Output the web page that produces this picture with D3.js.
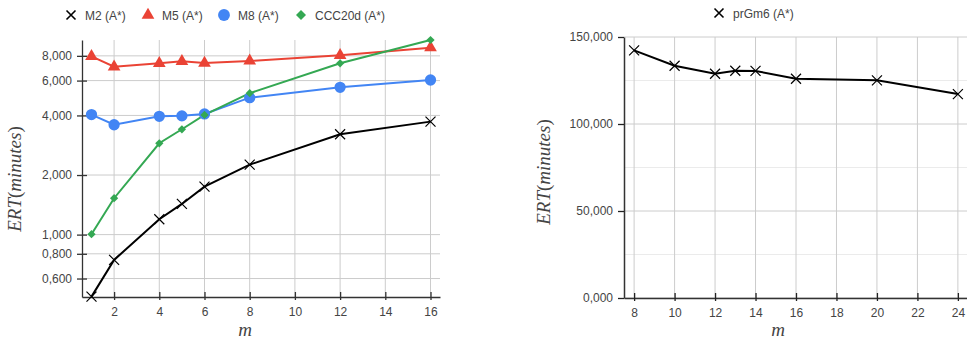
<!DOCTYPE html>
<html>
<head>
<meta charset="utf-8">
<script src="https://cdn.jsdelivr.net/npm/d3@7"></script>
<style>
  body { margin: 0; background: #fff; }
  svg text { font-family: "Liberation Sans", Arial, sans-serif; }
</style>
</head>
<body>
<div id="chart"></div>
<script>
// left chart data (log y)
var m_left = [1, 2, 4, 5, 6, 8, 12, 16];
var m2 = [486, 745, 1196, 1429, 1747, 2257, 3214, 3722];
var m5 = [7950, 7050, 7340, 7510, 7360, 7540, 8050, 8800];
var m8 = [4040, 3590, 3960, 3980, 4070, 4920, 5550, 6040];
var ccc20d = [1005, 1527, 2894, 3406, 4022, 5180, 7340, 9620];
var left_yticks = [600, 800, 1000, 2000, 4000, 6000, 8000];
var left_xticks = [2, 4, 6, 8, 10, 12, 14, 16];

// right chart data
var m_right = [8, 10, 12, 13, 14, 16, 20, 24];
var prgm6 = [142300, 133500, 128900, 130600, 130500, 126000, 125100, 117200];
var right_yticks = [0, 50000, 100000, 150000];
var right_minor = [25000, 75000, 125000];
var right_xticks = [8, 10, 12, 14, 16, 18, 20, 22, 24];

var w = 967, h = 339;

var the_svg = d3.select('#chart')
  .append('svg')
    .attr('width', w)
    .attr('height', h);

// weird "0,800" style labels from the original
function fmt(v) {
  var th = Math.floor(v / 1000);
  var rest = String(Math.round(v % 1000));
  while (rest.length < 3) rest = '0' + rest;
  return th + ',' + rest;
}

function crossPath(s) {
  return 'M' + (-s) + ',' + (-s) + 'L' + s + ',' + s + 'M' + (-s) + ',' + s + 'L' + s + ',' + (-s);
}

// diamond = square turned 45 degrees
function symPath(kind, size) {
  var sym = {tri: d3.symbolTriangle, circ: d3.symbolCircle, dia: d3.symbolSquare}[kind];
  return d3.symbol().type(sym).size(size)();
}
function symRot(kind) { return kind == 'dia' ? ' rotate(45)' : ''; }

function drawMarkers(g, xs, ys, x, y, kind, col) {
  var pts = xs.map(function(d, i) { return [x(d), y(ys[i])]; });
  var sel = g.selectAll(null).data(pts).enter().append('path')
    .attr('transform', function(p) { return 'translate(' + p[0] + ',' + p[1] + ')' + symRot(kind); });
  if (kind == 'cross') {
    sel.attr('d', crossPath(5)).attr('stroke', col).attr('stroke-width', 1.2).attr('fill', 'none');
  } else {
    var size = {tri: 70, circ: 100, dia: 34}[kind];
    sel.attr('d', symPath(kind, size)).attr('fill', col);
  }
}

function yLabel(x, y) {
  var t = the_svg.append('text')
    .attr('transform', 'translate(' + x + ',' + y + ') rotate(-90)')
    .attr('text-anchor', 'middle')
    .style('font-family', '"Liberation Serif", "Times New Roman", serif')
    .style('font-size', '19px')
    .attr('fill', '#444');
  t.append('tspan').style('font-style', 'italic').text('ERT');
  t.append('tspan').text('(');
  t.append('tspan').style('font-style', 'italic').text('minutes');
  t.append('tspan').text(')');
}

function xLabel(x, y) {
  the_svg.append('text')
    .attr('x', x).attr('y', y)
    .attr('text-anchor', 'middle')
    .style('font-family', '"Liberation Serif", "Times New Roman", serif')
    .style('font-style', 'italic')
    .style('font-size', '19px')
    .attr('fill', '#444')
    .text('m');
}

function legendItem(x, y, kind, col, label) {
  var g = the_svg.append('g').attr('transform', 'translate(' + x + ',' + y + ')');
  if (kind == 'cross') {
    g.append('path').attr('d', crossPath(4.5)).attr('stroke', col).attr('stroke-width', 1.6);
  } else {
    var size = {tri: 70, circ: 110, dia: 50}[kind];
    g.append('path').attr('d', symPath(kind, size)).attr('transform', symRot(kind)).attr('fill', col);
  }
  g.append('text').attr('x', 14).attr('y', 4.5)
    .style('font-size', '12px').attr('fill', '#444').text(label);
}

// ---------- left chart ----------
var xl = d3.scaleLinear().domain([0.58, 16.42]).range([82, 440]);
var yl = d3.scaleLog().domain([484, 9620]).range([297, 40]);

var gl = the_svg.append('g');

gl.selectAll(null).data(left_xticks).enter().append('line')
  .attr('x1', function(d) { return xl(d); }).attr('x2', function(d) { return xl(d); })
  .attr('y1', 40).attr('y2', 297)
  .attr('stroke', '#ccc').attr('stroke-width', 1);
gl.selectAll(null).data(left_yticks).enter().append('line')
  .attr('x1', 82).attr('x2', 440)
  .attr('y1', function(d) { return yl(d); }).attr('y2', function(d) { return yl(d); })
  .attr('stroke', '#ccc').attr('stroke-width', 1);

var yAxisL = d3.axisLeft(yl).tickValues(left_yticks).tickFormat(fmt).tickSizeInner(5).tickSizeOuter(0).tickPadding(5);
var axl = gl.append('g').attr('transform', 'translate(82,0)').call(yAxisL);
var xAxisL = d3.axisBottom(xl).tickValues(left_xticks).tickFormat(d3.format('d')).tickSizeInner(3).tickSizeOuter(0).tickPadding(7);
var axb = gl.append('g').attr('transform', 'translate(0,297)').call(xAxisL);

[axl, axb].forEach(function(a) {
  a.select('.domain').attr('stroke', '#333').attr('stroke-width', 1.3);
  a.selectAll('.tick line').attr('stroke', '#333').attr('stroke-width', 1.3);
  a.selectAll('.tick text').attr('fill', '#444').style('font-size', '12px')
    .style('font-family', '"Liberation Sans", Arial, sans-serif');
});
// ticks cross the axis line
axl.selectAll('.tick line').attr('x2', -5).attr('x1', 5);
axb.selectAll('.tick line').attr('y1', -5).attr('y2', 3);

var lineL = d3.line().x(function(d) { return xl(d[0]); }).y(function(d) { return yl(d[1]); });
var seriesL = [
  {ys: m2, col: '#000000', kind: 'cross', label: 'M2 (A*)'},
  {ys: m5, col: '#ea4335', kind: 'tri', label: 'M5 (A*)'},
  {ys: m8, col: '#4285f4', kind: 'circ', label: 'M8 (A*)'},
  {ys: ccc20d, col: '#34a853', kind: 'dia', label: 'CCC20d (A*)'}
];
seriesL.forEach(function(s) {
  gl.append('path')
    .datum(m_left.map(function(d, i) { return [d, s.ys[i]]; }))
    .attr('d', lineL)
    .attr('fill', 'none').attr('stroke', s.col).attr('stroke-width', 2);
});
seriesL.forEach(function(s) {
  drawMarkers(gl, m_left, s.ys, xl, yl, s.kind, s.col);
});

var legX = [71, 148, 224, 301];
seriesL.forEach(function(s, i) { legendItem(legX[i], 15, s.kind, s.col, s.label); });

yLabel(21, 179);
xLabel(245, 336);

// ---------- right chart ----------
var xr = d3.scaleLinear().domain([7.5, 24.5]).range([624, 968]);
var yr = d3.scaleLinear().domain([0, 150000]).range([298, 37]);

var gr = the_svg.append('g');

gr.selectAll(null).data(right_minor).enter().append('line')
  .attr('x1', 624).attr('x2', 968)
  .attr('y1', function(d) { return yr(d); }).attr('y2', function(d) { return yr(d); })
  .attr('stroke', '#ebebeb').attr('stroke-width', 1);
gr.selectAll(null).data(right_xticks).enter().append('line')
  .attr('x1', function(d) { return xr(d); }).attr('x2', function(d) { return xr(d); })
  .attr('y1', 37).attr('y2', 298)
  .attr('stroke', '#ccc').attr('stroke-width', 1);
gr.selectAll(null).data(right_yticks).enter().append('line')
  .attr('x1', 624).attr('x2', 968)
  .attr('y1', function(d) { return yr(d); }).attr('y2', function(d) { return yr(d); })
  .attr('stroke', '#ccc').attr('stroke-width', 1);

var ayr = gr.append('g').attr('transform', 'translate(624,0)')
  .call(d3.axisLeft(yr).tickValues(right_yticks).tickFormat(fmt).tickSizeInner(5).tickSizeOuter(0).tickPadding(6));
var axr = gr.append('g').attr('transform', 'translate(0,298)')
  .call(d3.axisBottom(xr).tickValues(right_xticks).tickFormat(d3.format('d')).tickSizeInner(3).tickSizeOuter(0).tickPadding(7));

[ayr, axr].forEach(function(a) {
  a.select('.domain').attr('stroke', '#333').attr('stroke-width', 1.5);
  a.selectAll('.tick line').attr('stroke', '#222').attr('stroke-width', 1.3);
  a.selectAll('.tick text').attr('fill', '#444').style('font-size', '12px')
    .style('font-family', '"Liberation Sans", Arial, sans-serif');
});
ayr.selectAll('.tick line').attr('x1', 0).attr('x2', -6);
axr.selectAll('.tick line').attr('y1', -5).attr('y2', 3);

var lineR = d3.line().x(function(d) { return xr(d[0]); }).y(function(d) { return yr(d[1]); });
gr.append('path')
  .datum(m_right.map(function(d, i) { return [d, prgm6[i]]; }))
  .attr('d', lineR)
  .attr('fill', 'none').attr('stroke', '#000').attr('stroke-width', 2);
drawMarkers(gr, m_right, prgm6, xr, yr, 'cross', '#000');

legendItem(719, 13, 'cross', '#000', 'prGm6 (A*)');

yLabel(550, 172);
xLabel(778, 336);
</script>
</body>
</html>
